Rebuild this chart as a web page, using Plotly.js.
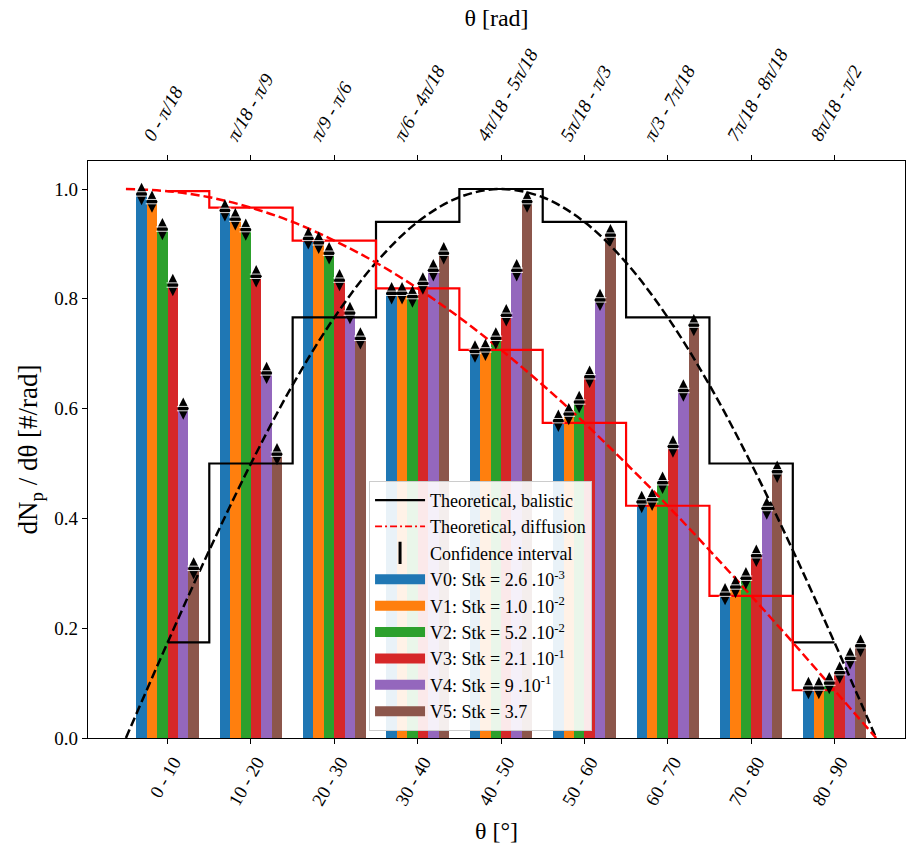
<!DOCTYPE html>
<html>
<head>
<meta charset="utf-8">
<script src="https://cdn.plot.ly/plotly-3.0.1.min.js"></script>
<style>html,body{margin:0;padding:0;background:#fff;}#chart{width:907px;height:848px;}</style>
</head>
<body>
<div id="chart"></div>
<script>
// ---------------- data ----------------
const centers = [5, 15, 25, 35, 45, 55, 65, 75, 85];
const bottomLabels = ['0 - 10', '10 - 20', '20 - 30', '30 - 40', '40 - 50', '50 - 60', '60 - 70', '70 - 80', '80 - 90'];
const topLabels = ['0 - π/18', 'π/18 - π/9', 'π/9 - π/6', 'π/6 - 4π/18', '4π/18 - 5π/18', '5π/18 - π/3', 'π/3 - 7π/18', '7π/18 - 8π/18', '8π/18 - π/2'];
const yTicks = [0.0, 0.2, 0.4, 0.6, 0.8, 1.0];

const seriesNames = [
  'V0: Stk = 2.6 .10<sup>-3</sup>',
  'V1: Stk = 1.0 .10<sup>-2</sup>',
  'V2: Stk = 5.2 .10<sup>-2</sup>',
  'V3: Stk = 2.1 .10<sup>-1</sup>',
  'V4: Stk = 9 .10<sup>-1</sup>',
  'V5: Stk = 3.7'
];
const v0 = [0.991, 0.961, 0.910, 0.810, 0.704, 0.578, 0.430, 0.262, 0.091];
const v1 = [0.977, 0.945, 0.902, 0.810, 0.707, 0.590, 0.434, 0.275, 0.091];
const v2 = [0.927, 0.926, 0.883, 0.804, 0.728, 0.612, 0.465, 0.291, 0.100];
const v3 = [0.825, 0.841, 0.834, 0.828, 0.770, 0.658, 0.531, 0.332, 0.119];
const v4 = [0.600, 0.665, 0.774, 0.852, 0.852, 0.798, 0.633, 0.418, 0.145];
const v5 = [0.309, 0.517, 0.728, 0.883, 0.977, 0.916, 0.752, 0.485, 0.168];

const ballisticStep = [0.174, 0.500, 0.766, 0.940, 1.000, 0.940, 0.766, 0.500, 0.174];
const diffusionStep = [0.996, 0.966, 0.906, 0.819, 0.707, 0.574, 0.423, 0.259, 0.087];

const curveAngles = [0, 5, 10, 15, 20, 25, 30, 35, 40, 45, 50, 55, 60, 65, 70, 75, 80, 85, 90];
const ballisticCurve = [0.000, 0.174, 0.342, 0.500, 0.643, 0.766, 0.866, 0.940, 0.985, 1.000, 0.985, 0.940, 0.866, 0.766, 0.643, 0.500, 0.342, 0.174, 0.000];
const diffusionCurve = [1.000, 0.996, 0.985, 0.966, 0.940, 0.906, 0.866, 0.819, 0.766, 0.707, 0.643, 0.574, 0.500, 0.423, 0.342, 0.259, 0.174, 0.087, 0.000];

// ---------------- style ----------------
const colors = ['#1f77b4', '#ff7f0e', '#2ca02c', '#d62728', '#9467bd', '#8c564b'];
const BAR_W = 1.25;
const CAP = 0.004;
const SERIF = 'Liberation Serif, Times New Roman, serif';
const series = [v0, v1, v2, v3, v4, v5];

const traces = [];

// bars
series.forEach((vals, i) => {
  traces.push({
    type: 'bar', x: centers, y: vals, width: BAR_W, offset: (i - 3) * BAR_W,
    marker: {color: colors[i], line: {width: 0}}, showlegend: false, hoverinfo: 'skip'
  });
});

// theoretical step lines and curves
traces.push({type: 'scatter', mode: 'lines', x: centers, y: ballisticStep, name: 'Theoretical, balistic',
  line: {color: 'black', width: 2.2, shape: 'hvh'}, legendrank: 1, hoverinfo: 'skip'});
traces.push({type: 'scatter', mode: 'lines', x: curveAngles, y: ballisticCurve, showlegend: false,
  line: {color: 'black', width: 2.5, dash: '9px,4px', shape: 'spline'}, hoverinfo: 'skip'});
traces.push({type: 'scatter', mode: 'lines', x: centers, y: diffusionStep, showlegend: false,
  line: {color: 'red', width: 2.2, shape: 'hvh'}, hoverinfo: 'skip'});
traces.push({type: 'scatter', mode: 'lines', x: curveAngles, y: diffusionCurve, showlegend: false,
  line: {color: 'red', width: 2.5, dash: '9px,4px', shape: 'spline'}, hoverinfo: 'skip'});

// legend-only entries
traces.push({type: 'scatter', mode: 'lines', x: [null], y: [null], xaxis: 'x2', name: 'Theoretical, diffusion',
  line: {color: 'red', width: 1.8, dash: '7px,3px,2px,3px'}, legendrank: 2});
traces.push({type: 'scatter', mode: 'markers', x: [null], y: [null], xaxis: 'x2', name: 'Confidence interval',
  marker: {symbol: 'line-ns', size: 18, color: 'black', line: {color: 'black', width: 3}}, legendrank: 3});
series.forEach((vals, i) => {
  traces.push({type: 'scatter', mode: 'lines', x: [null], y: [null], xaxis: 'x2', name: seriesNames[i],
    line: {color: colors[i], width: 12}, legendrank: 4 + i});
});

// confidence markers
series.forEach((vals, i) => {
  const xs = centers.map(c => c + (i - 2.5) * BAR_W);
  traces.push({type: 'scatter', mode: 'markers', x: xs, y: vals, showlegend: false, hoverinfo: 'skip',
    marker: {symbol: 'diamond-tall', size: 16, color: 'black', line: {width: 0}}});
  traces.push({type: 'scatter', mode: 'markers', x: xs.concat(xs),
    y: vals.map(v => v + CAP).concat(vals.map(v => v - CAP)), showlegend: false, hoverinfo: 'skip',
    marker: {symbol: 'line-ew', size: 9, color: 'white', line: {color: 'rgba(255,255,255,0.85)', width: 1}}});
});

const titleFont = {family: SERIF, size: 24, color: 'black'};

const layout = {
  width: 907, height: 848,
  margin: {l: 88, r: 2, t: 161, b: 110},
  paper_bgcolor: 'white', plot_bgcolor: 'white',
  font: {family: SERIF, color: 'black'},
  showlegend: true,
  legend: {
    x: 0.344, y: 0.229, xanchor: 'left', yanchor: 'middle',
    bgcolor: 'rgba(255,255,255,0.9)', bordercolor: '#cccccc', borderwidth: 1,
    font: {family: SERIF, size: 18, color: 'black'}, traceorder: 'normal', itemwidth: 50
  },
  xaxis: {
    range: [-4.55, 93.46], tickvals: centers, ticktext: bottomLabels, tickangle: -60,
    ticks: 'outside', ticklen: 5, tickcolor: 'black', showline: true, linecolor: 'black', linewidth: 1.2,
    showgrid: false, zeroline: false, automargin: false, ticklabelshift: 6,
    tickfont: {family: SERIF, size: 18.5, color: 'black'},
    title: {text: 'θ [°]', font: titleFont, standoff: 14}
  },
  xaxis2: {
    overlaying: 'x', side: 'top', matches: 'x', anchor: 'y', tickvals: centers, ticktext: topLabels, tickangle: -60,
    ticks: 'outside', ticklen: 5, tickcolor: 'black', showline: true, linecolor: 'black', linewidth: 1.2,
    showgrid: false, zeroline: false, automargin: false, ticklabelshift: -22,
    tickfont: {family: SERIF, size: 19, color: 'black', style: 'italic'},
    title: {text: 'θ [rad]', font: titleFont, standoff: 11}
  },
  yaxis: {
    range: [0, 1.051], tickvals: yTicks, tickformat: '.1f',
    ticks: 'outside', ticklen: 5, tickcolor: 'black', showline: true, mirror: true, linecolor: 'black', linewidth: 1.2,
    showgrid: false, zeroline: false, tickfont: {family: SERIF, size: 19, color: 'black'}, automargin: false,
    title: {text: 'dN<sub>p</sub> / dθ [#/rad]', font: {family: SERIF, size: 27, color: 'black'}, standoff: 8}
  },
  bargap: 0, barmode: 'overlay'
};

Plotly.newPlot('chart', traces, layout, {displayModeBar: false, staticPlot: true});
</script>
</body>
</html>
